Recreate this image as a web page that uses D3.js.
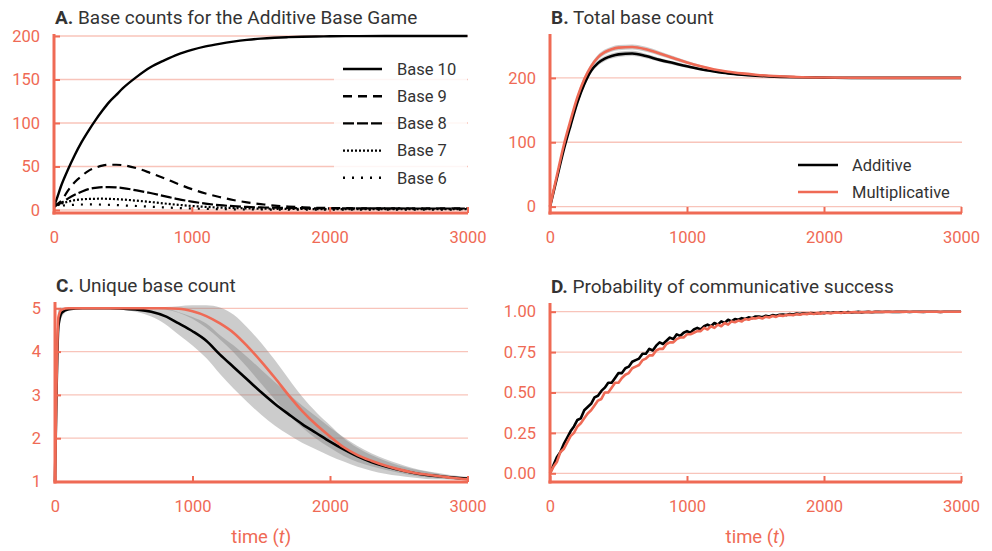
<!DOCTYPE html>
<html>
<head>
<meta charset="utf-8">
<script src="https://cdn.jsdelivr.net/npm/d3@7"></script>
<style>
html,body{margin:0;padding:0;background:#fff;}
svg{display:block;font-family:Roboto, "Noto Sans", sans-serif;}
</style>
</head>
<body>
<svg id="chart" width="992" height="551"></svg>
<script>
// ---------------- DATA ----------------
const xTicks = [0, 1000, 2000, 3000];

// Panel A: base counts (Additive Base Game)
const tA = [0,25,50,100,150,200,250,300,350,400,450,500,600,700,800,900,1000,1100,1200,1300,1400,1500,1600,1700,1800,1900,2000,2200,2400,2600,2800,3000];
const base10 = [4,15,27,46,63,78,91,103,114,124,132,140,153,164,172,179,184,188,191,193.5,195.5,197,198,198.7,199.2,199.5,199.7,199.9,200,200,200,200];
const base9  = [4,7,10,22,32,39,45,48.5,51,52,52,51.5,48,42.5,36.5,30,24,19,15,11.5,8.8,6.8,5,4,3.2,2.6,2.3,2,1.9,1.8,1.8,1.8];
const base8  = [4,6,8,13,17.5,21,24,25.5,26.3,26.4,26,25.2,22.5,19.5,16,12.5,9.7,7.3,5.6,4.4,3.5,3,2.6,2.3,2.1,2,1.9,1.8,1.8,1.7,1.7,1.7];
const base7  = [4,5.5,7,9.5,11.3,12.2,12.7,12.9,13,12.8,12.5,12,10.7,9.2,7.5,6,4.6,3.6,2.8,2.3,1.9,1.6,1.4,1.3,1.2,1.1,1.1,1,1,1,1,1];
const base6  = [4,4.5,5,5.5,6,6.3,6.4,6.4,6.2,6,5.7,5.3,4.6,3.8,3,2.3,1.7,1.3,1,0.8,0.7,0.6,0.5,0.5,0.5,0.5,0.5,0.5,0.5,0.5,0.5,0.5];
const baseLabels = ["Base 10","Base 9","Base 8","Base 7","Base 6"];
const yTicksA = [0,50,100,150,200];

// Panel B: total base count
const tB = [0,50,100,150,200,250,300,350,400,450,500,600,700,800,900,1000,1100,1200,1300,1400,1500,1600,1800,2000,2200,2500,3000];
const addB   = [0,44,88,126,162,190,211,223,230,234,236.5,238,234,228,223,218,213.5,210,207,205,203.5,202.3,201,200.4,200.1,200,200];
const addBLo = [0,42,85,122,158,186,207,219,226,230,232.5,234,230.5,225,220,215.5,211.5,208,205.5,203.5,202.3,201.3,200.2,199.8,199.6,199.6,199.7];
const addBHi = [0,46,91,130,166,194,215,227,234,238,240.5,242,237.5,231,226,220.5,215.5,212,208.5,206.5,204.7,203.3,201.8,201,200.6,200.4,200.3];
const mulB   = [0,48,95,134,170,198,218,232,240,244.5,247,248,244.5,238,231,224,218,213,209.5,207,205,203.3,201.5,200.6,200.2,200,200];
const mulBLo = [0,46,92,130,166,194,214,228,236,240.5,243,244,240.5,234.5,228,221.5,216,211.5,208,205.5,203.8,202.3,200.8,200,199.7,199.6,199.7];
const mulBHi = [0,50,98,138,174,202,222,236,244,248.5,251,252,248.5,241.5,234,226.5,220,214.5,211,208.5,206.2,204.3,202.2,201.2,200.7,200.4,200.3];
const yTicksB = [0,100,200];
const seriesLabels = ["Additive","Multiplicative"];

// Panel C: unique base count
const tC = [0,25,50,100,200,300,400,500,600,700,800,900,1000,1100,1200,1300,1400,1500,1600,1700,1800,1900,2000,2100,2200,2300,2400,2500,2600,2700,2800,2900,3000];
const addC   = [1,4.6,4.9,4.98,5,5,5,4.99,4.97,4.92,4.82,4.65,4.47,4.25,3.93,3.64,3.35,3.06,2.79,2.55,2.32,2.12,1.92,1.74,1.58,1.45,1.35,1.27,1.2,1.15,1.12,1.09,1.07];
const addCLo = [1,4.3,4.8,4.95,4.99,4.99,4.98,4.96,4.91,4.81,4.64,4.39,4.14,3.85,3.48,3.14,2.83,2.54,2.29,2.08,1.89,1.74,1.59,1.46,1.34,1.25,1.18,1.13,1.09,1.06,1.05,1.04,1.03];
const addCHi = [1,4.9,5,5,5.01,5.01,5.02,5.02,5.03,5.03,5,4.91,4.8,4.65,4.38,4.14,3.87,3.58,3.29,3.02,2.75,2.5,2.25,2.02,1.82,1.65,1.52,1.41,1.31,1.24,1.19,1.14,1.11];
const mulC   = [1,4.8,4.97,5,5,5,5,5,5,5,5,4.99,4.93,4.82,4.65,4.43,4.12,3.77,3.39,2.99,2.62,2.31,2.04,1.79,1.61,1.48,1.37,1.28,1.21,1.16,1.12,1.08,1.05];
const mulCLo = [1,4.5,4.9,4.98,4.99,4.99,4.99,4.99,4.99,4.99,4.97,4.9,4.76,4.55,4.28,3.98,3.63,3.26,2.89,2.55,2.24,1.99,1.78,1.59,1.45,1.35,1.27,1.2,1.14,1.1,1.07,1.05,1.03];
const mulCHi = [1,5,5.02,5.02,5.01,5.01,5.01,5.01,5.01,5.01,5.03,5.05,5.07,5.07,5.02,4.85,4.55,4.2,3.8,3.37,2.95,2.6,2.3,2.0,1.78,1.61,1.48,1.37,1.29,1.23,1.17,1.12,1.08];
const yTicksC = [1,2,3,4,5];

// Panel D: probability of communicative success (every 25 time steps)
const stepD = 25;
const addD = [0,0.05,0.10,0.13,0.18,0.22,0.26,0.29,0.33,0.34,0.39,0.41,0.43,0.47,0.48,0.51,0.53,0.56,0.56,0.59,
  0.62,0.62,0.65,0.66,0.69,0.70,0.71,0.74,0.74,0.77,0.76,0.79,0.81,0.80,0.82,0.84,0.83,0.86,0.85,0.87,
  0.88,0.87,0.89,0.90,0.89,0.91,0.92,0.91,0.93,0.92,0.94,0.93,0.95,0.94,0.955,0.95,0.96,0.955,0.965,0.96,0.97,
  0.97,0.966,0.975,0.97,0.979,0.975,0.981,0.983,0.979,0.986,0.983,0.988,0.985,0.99,0.987,0.991,0.99,0.989,0.994,0.991,
  0.995,0.992,0.996,0.994,0.997,0.994,0.998,0.995,0.997,0.999,0.996,0.998,0.999,0.997,0.999,1,0.998,1,1,0.998,
  1,0.999,1,1,0.998,1,1,1,0.999,1,1,1,1,0.998,1,1,1,1,1,1];
const mulD = [0,0.04,0.07,0.13,0.15,0.19,0.23,0.25,0.29,0.31,0.34,0.37,0.39,0.42,0.45,0.46,0.50,0.50,0.53,0.56,
  0.56,0.59,0.61,0.62,0.65,0.66,0.67,0.70,0.71,0.73,0.73,0.76,0.77,0.77,0.80,0.81,0.81,0.83,0.84,0.84,
  0.86,0.86,0.87,0.88,0.88,0.90,0.89,0.91,0.90,0.92,0.91,0.93,0.92,0.94,0.935,0.945,0.94,0.955,0.95,0.96,0.958,
  0.964,0.958,0.969,0.964,0.973,0.968,0.977,0.974,0.979,0.981,0.978,0.985,0.981,0.987,0.985,0.99,0.986,0.991,0.988,0.993,
  0.992,0.99,0.994,0.995,0.992,0.996,0.994,0.997,0.998,0.995,0.998,0.997,0.999,0.997,1,0.998,0.999,1,0.999,1,
  1,1,0.999,1,1,1,1,0.998,1,1,1,1,1,0.999,1,1,1,1,1,1];
const yTicksD = [0,0.25,0.5,0.75,1];

// ---------------- STYLE ----------------
const AX = "#ef6a55";
const GRID = "#f8c4ba";
const TXT = "#333333";
const RED = "#ef6a55";

const svg = d3.select("#chart");

function panel(cfg){
  const g = svg.append("g");
  const x = d3.scaleLinear().domain([0,3000]).range(cfg.xr);
  const y = d3.scaleLinear().domain(cfg.yd).range(cfg.yr);
  g.append("g").selectAll("line").data(cfg.yTicks).join("line")
    .attr("x1", cfg.box.l).attr("x2", cfg.box.r)
    .attr("y1", d=>y(d)).attr("y2", d=>y(d))
    .attr("stroke", GRID).attr("stroke-width", 1.3);
  const plot = g.append("g");
  const yAxis = d3.axisLeft(y).tickValues(cfg.yTicks).tickSize(-6).tickPadding(14)
    .tickFormat(cfg.yFmt || d3.format("d"));
  const ya = g.append("g").attr("transform", `translate(${cfg.box.l},0)`).call(yAxis);
  const xAxis = d3.axisBottom(x).tickValues(xTicks).tickSize(-6).tickPadding(18).tickFormat(d3.format("d"));
  const xa = g.append("g").attr("transform", `translate(0,${cfg.box.b})`).call(xAxis);
  [ya, xa].forEach(a=>{
    a.select(".domain").remove();
    a.selectAll(".tick line").attr("stroke", AX).attr("stroke-width", 2);
    a.selectAll(".tick text").attr("fill", AX).attr("font-size", 16.5)
      .attr("font-family", "Roboto, sans-serif").attr("font-weight", 400);
  });
  g.append("line").attr("x1", cfg.box.l).attr("x2", cfg.box.l)
    .attr("y1", cfg.box.t).attr("y2", cfg.box.b+1.5).attr("stroke", AX).attr("stroke-width", 3);
  g.append("line").attr("x1", cfg.box.l-1.5).attr("x2", cfg.box.r)
    .attr("y1", cfg.box.b).attr("y2", cfg.box.b).attr("stroke", AX).attr("stroke-width", 3);
  const tt = g.append("text").attr("x", cfg.box.l + 1).attr("y", cfg.box.t - 10)
    .attr("font-size", 19).attr("fill", TXT);
  tt.append("tspan").attr("font-weight", 700).text(cfg.letter);
  tt.append("tspan").text(" " + cfg.title);
  if (cfg.xlabel){
    const xl = g.append("text").attr("x", (cfg.xr[0]+cfg.xr[1])/2).attr("y", cfg.box.b + 61)
      .attr("text-anchor", "middle").attr("font-size", 18.5).attr("fill", AX);
    xl.append("tspan").text("time (");
    xl.append("tspan").attr("font-style", "italic").text("t");
    xl.append("tspan").text(")");
  }
  return {g, plot, x, y};
}

// Panel A
(function(){
  const p = panel({xr:[54,467.5], yd:[0,200], yr:[210,36], box:{l:54,r:468,t:34,b:213},
    yTicks:yTicksA, letter:"A.", title:"Base counts for the Additive Base Game"});
  const series = [base10, base9, base8, base7, base6];
  const dashes = [null, "9,6", "11,3", "2,2", "2,7"];
  const line = d3.line().x((d,i)=>p.x(tA[i])).y(d=>p.y(d)).curve(d3.curveMonotoneX);
  series.forEach((s,k)=>{
    p.plot.append("path").datum(s).attr("d", line).attr("fill","none")
      .attr("stroke","#000").attr("stroke-width", k===0?2.4:2.2)
      .attr("stroke-dasharray", dashes[k]);
  });
  const lg = p.g.append("g");
  lg.append("rect").attr("x", 334).attr("y", 54).attr("width", 133).attr("height", 138)
    .attr("fill", "#fff").attr("opacity", 0.85);
  baseLabels.forEach((lab,k)=>{
    const yy = 69 + k*27.2;
    lg.append("line").attr("x1", 343).attr("x2", 382).attr("y1", yy).attr("y2", yy)
      .attr("stroke","#000").attr("stroke-width", 2.4).attr("stroke-dasharray", dashes[k]);
    lg.append("text").attr("x", 397).attr("y", yy).attr("dy","0.35em")
      .attr("font-size", 16.5).attr("fill", TXT).text(lab);
  });
})();

// Panel B
(function(){
  const p = panel({xr:[550,961], yd:[0,200], yr:[206.6,77.9], box:{l:550,r:962,t:34,b:213},
    yTicks:yTicksB, letter:"B.", title:"Total base count"});
  const area = (lo,hi)=>d3.area().x((d,i)=>p.x(tB[i])).y0((d,i)=>p.y(lo[i])).y1((d,i)=>p.y(hi[i])).curve(d3.curveMonotoneX);
  const line = d3.line().x((d,i)=>p.x(tB[i])).y(d=>p.y(d)).curve(d3.curveMonotoneX);
  p.plot.append("path").datum(addB).attr("d", area(addBLo, addBHi)).attr("fill","#808080").attr("opacity",0.4);
  p.plot.append("path").datum(mulB).attr("d", area(mulBLo, mulBHi)).attr("fill","#808080").attr("opacity",0.4);
  p.plot.append("path").datum(addB).attr("d", line).attr("fill","none").attr("stroke","#000").attr("stroke-width",2.6);
  p.plot.append("path").datum(mulB).attr("d", line).attr("fill","none").attr("stroke",RED).attr("stroke-width",2.6);
  const lg = p.g.append("g");
  lg.append("rect").attr("x", 789).attr("y", 147).attr("width", 172).attr("height", 58)
    .attr("fill","#fff").attr("opacity",0.85);
  seriesLabels.forEach((lab,k)=>{
    const yy = 165 + k*27;
    lg.append("line").attr("x1",798).attr("x2",838).attr("y1",yy).attr("y2",yy)
      .attr("stroke", k===0?"#000":RED).attr("stroke-width",2.6);
    lg.append("text").attr("x",852).attr("y",yy).attr("dy","0.35em")
      .attr("font-size",16.5).attr("fill",TXT).text(lab);
  });
})();

// Panel C
(function(){
  const p = panel({xr:[55,467.5], yd:[1,5], yr:[481.5,308.3], box:{l:55,r:468,t:302,b:482},
    yTicks:yTicksC, letter:"C.", title:"Unique base count", xlabel:true});
  const area = (lo,hi)=>d3.area().x((d,i)=>p.x(tC[i])).y0((d,i)=>p.y(lo[i])).y1((d,i)=>p.y(hi[i])).curve(d3.curveMonotoneX);
  const line = d3.line().x((d,i)=>p.x(tC[i])).y(d=>p.y(d)).curve(d3.curveMonotoneX);
  p.plot.append("path").datum(addC).attr("d", area(addCLo, addCHi)).attr("fill","#808080").attr("opacity",0.4);
  p.plot.append("path").datum(mulC).attr("d", area(mulCLo, mulCHi)).attr("fill","#808080").attr("opacity",0.4);
  p.plot.append("path").datum(addC).attr("d", line).attr("fill","none").attr("stroke","#000").attr("stroke-width",2.6);
  p.plot.append("path").datum(mulC).attr("d", line).attr("fill","none").attr("stroke",RED).attr("stroke-width",2.6);
})();

// Panel D
(function(){
  const p = panel({xr:[550,961], yd:[0,1], yr:[473.3,311.7], box:{l:550,r:962,t:303,b:482},
    yTicks:yTicksD, letter:"D.", title:"Probability of communicative success", xlabel:true, yFmt:d3.format(".2f")});
  const line = d3.line().x((d,i)=>p.x(i*stepD)).y(d=>p.y(d));
  p.plot.append("path").datum(addD).attr("d", line).attr("fill","none").attr("stroke","#000").attr("stroke-width",2.6).attr("stroke-linejoin","round");
  p.plot.append("path").datum(mulD).attr("d", line).attr("fill","none").attr("stroke",RED).attr("stroke-width",2.6).attr("stroke-linejoin","round");
})();
</script>
</body>
</html>
